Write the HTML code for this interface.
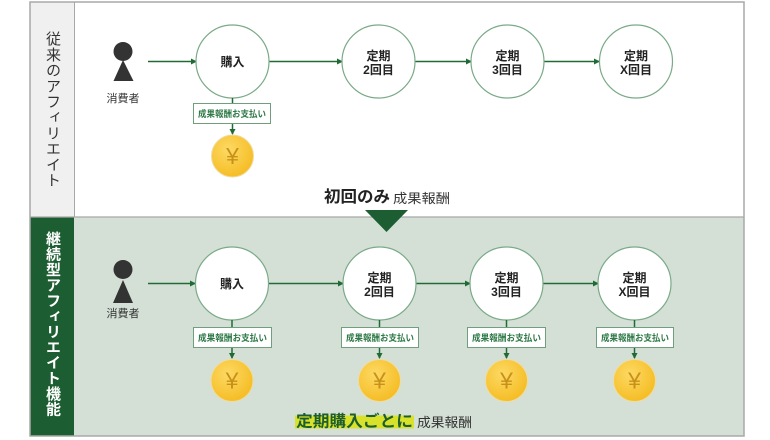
<!DOCTYPE html>
<html><head><meta charset="utf-8">
<style>
html,body{margin:0;padding:0;background:#fff;}
body{width:770px;height:440px;position:relative;overflow:hidden;font-family:"Liberation Sans","Noto Sans CJK JP",sans-serif;}
svg{position:absolute;left:0;top:0;}
.vt{position:absolute;writing-mode:vertical-rl;text-orientation:upright;font-family:"Liberation Sans","Noto Sans CJK JP",sans-serif;width:44px;line-height:44px;text-align:left;white-space:nowrap;}
</style></head><body>
<svg width="770" height="440" viewBox="0 0 770 440" xmlns="http://www.w3.org/2000/svg" font-family="Liberation Sans, Noto Sans CJK JP, sans-serif">
<defs>
<radialGradient id="coin" cx="0.4" cy="0.35" r="0.75">
<stop offset="0" stop-color="#fdd964"/>
<stop offset="1" stop-color="#f4b91c"/>
</radialGradient>
<marker id="ah" markerWidth="6" markerHeight="6" refX="5" refY="3" orient="auto" markerUnits="userSpaceOnUse">
<path d="M0,0 L6,3 L0,6 z" fill="#216a35"/>
</marker>
</defs>
<!-- sections -->
<rect x="30" y="2" width="714" height="215" fill="#ffffff"/>
<rect x="30" y="217" width="714" height="219" fill="#d4e0d6"/>
<rect x="30" y="2" width="44" height="215" fill="#f0f0f0"/>
<rect x="30" y="217" width="44" height="219" fill="#1c5e31"/>
<line x1="74.5" y1="2" x2="74.5" y2="217" stroke="#a8a8a8" stroke-width="1"/>
<line x1="30" y1="217" x2="744" y2="217" stroke="#a8a8a8" stroke-width="1.2"/>
<rect x="30" y="2" width="714" height="434" fill="none" stroke="#a8a8a8" stroke-width="1.5"/>

<!-- TOP ROW -->
<circle cx="123" cy="51.5" r="9.5" fill="#333"/>
<polygon points="123,60 113.5,81 133.5,81" fill="#333"/>
<text x="123" y="102" font-size="11" fill="#333" text-anchor="middle">消費者</text>

<g stroke="#216a35" stroke-width="1.5" marker-end="url(#ah)">
<line x1="148" y1="61.5" x2="196" y2="61.5"/>
<line x1="269" y1="61.5" x2="342" y2="61.5"/>
<line x1="415" y1="61.5" x2="471" y2="61.5"/>
<line x1="544" y1="61.5" x2="599" y2="61.5"/>
</g>
<g fill="#fff" stroke="#7aaa88" stroke-width="1.2">
<circle cx="232.5" cy="61.5" r="36.5"/>
<circle cx="378.5" cy="61.5" r="36.5"/>
<circle cx="507.5" cy="61.5" r="36.5"/>
<circle cx="636" cy="61.5" r="36.5"/>
</g>
<g font-size="12" font-weight="bold" fill="#222" text-anchor="middle">
<text x="232.5" y="66">購入</text>
<text x="378.5" y="60">定期</text><text x="378.5" y="74">2回目</text>
<text x="507.5" y="60">定期</text><text x="507.5" y="74">3回目</text>
<text x="636" y="60">定期</text><text x="636" y="74">X回目</text>
</g>
<line x1="232.5" y1="98" x2="232.5" y2="103" stroke="#216a35" stroke-width="1.5"/>
<rect x="193.5" y="103.5" width="77" height="20" fill="#fff" stroke="#6f9f7c" stroke-width="1"/>
<text x="198" y="117" font-size="9" font-weight="bold" fill="#2f7a48" textLength="68" lengthAdjust="spacingAndGlyphs">成果報酬お支払い</text>
<line x1="232.5" y1="124" x2="232.5" y2="134" stroke="#216a35" stroke-width="1.5" marker-end="url(#ah)"/>
<circle cx="232.5" cy="156" r="21" fill="url(#coin)" stroke="#efdc9c" stroke-width="1"/>
<text x="232.5" y="164" font-size="23" fill="#c8921a" text-anchor="middle">¥</text>

<text x="324" y="202" font-size="16" font-weight="bold" fill="#222" textLength="66" lengthAdjust="spacingAndGlyphs">初回のみ</text>
<text x="393" y="203" font-size="13" fill="#333" textLength="57" lengthAdjust="spacingAndGlyphs">成果報酬</text>
<polygon points="365,210 408,210 386.5,232" fill="#1c5e31"/>

<!-- BOTTOM ROW -->
<circle cx="123" cy="269.5" r="9.5" fill="#333"/>
<polygon points="123,280 113,303 133,303" fill="#333"/>
<text x="123" y="317" font-size="11" fill="#333" text-anchor="middle">消費者</text>

<g stroke="#216a35" stroke-width="1.5" marker-end="url(#ah)">
<line x1="148" y1="283.5" x2="195" y2="283.5"/>
<line x1="268" y1="283.5" x2="343" y2="283.5"/>
<line x1="416" y1="283.5" x2="470" y2="283.5"/>
<line x1="543" y1="283.5" x2="598" y2="283.5"/>
</g>
<g fill="#fff" stroke="#7aaa88" stroke-width="1.2">
<circle cx="232" cy="283.5" r="36.5"/>
<circle cx="379.5" cy="283.5" r="36.5"/>
<circle cx="506.5" cy="283.5" r="36.5"/>
<circle cx="634.5" cy="283.5" r="36.5"/>
</g>
<g font-size="12" font-weight="bold" fill="#222" text-anchor="middle">
<text x="232" y="288">購入</text>
<text x="379.5" y="282">定期</text><text x="379.5" y="296">2回目</text>
<text x="506.5" y="282">定期</text><text x="506.5" y="296">3回目</text>
<text x="634.5" y="282">定期</text><text x="634.5" y="296">X回目</text>
</g>
<g stroke="#216a35" stroke-width="1.5">
<line x1="232" y1="320" x2="232" y2="327"/>
<line x1="379.5" y1="320" x2="379.5" y2="327"/>
<line x1="506.5" y1="320" x2="506.5" y2="327"/>
<line x1="634.5" y1="320" x2="634.5" y2="327"/>
</g>
<g fill="#fff" stroke="#6f9f7c" stroke-width="1">
<rect x="193.5" y="327.5" width="78" height="20"/>
<rect x="341.5" y="327.5" width="77" height="20"/>
<rect x="467.5" y="327.5" width="78" height="20"/>
<rect x="596.5" y="327.5" width="77" height="20"/>
</g>
<g font-size="9" font-weight="bold" fill="#2f7a48">
<text x="198" y="341" textLength="69" lengthAdjust="spacingAndGlyphs">成果報酬お支払い</text>
<text x="346" y="341" textLength="68" lengthAdjust="spacingAndGlyphs">成果報酬お支払い</text>
<text x="472" y="341" textLength="69" lengthAdjust="spacingAndGlyphs">成果報酬お支払い</text>
<text x="601" y="341" textLength="68" lengthAdjust="spacingAndGlyphs">成果報酬お支払い</text>
</g>
<g stroke="#216a35" stroke-width="1.5" marker-end="url(#ah)">
<line x1="232" y1="348" x2="232" y2="358"/>
<line x1="379.5" y1="348" x2="379.5" y2="358"/>
<line x1="506.5" y1="348" x2="506.5" y2="358"/>
<line x1="634.5" y1="348" x2="634.5" y2="358"/>
</g>
<g fill="url(#coin)" stroke="#efdc9c" stroke-width="1">
<circle cx="232" cy="380.5" r="21"/>
<circle cx="379.5" cy="380.5" r="21"/>
<circle cx="506.5" cy="380.5" r="21"/>
<circle cx="634.5" cy="380.5" r="21"/>
</g>
<g font-size="23" fill="#c8921a" text-anchor="middle">
<text x="232" y="388.5">¥</text>
<text x="379.5" y="388.5">¥</text>
<text x="506.5" y="388.5">¥</text>
<text x="634.5" y="388.5">¥</text>
</g>

<rect x="295" y="415.5" width="119" height="13" fill="#d9e22a"/>
<text x="296" y="426.5" font-size="16" font-weight="bold" fill="#1c5e31" textLength="117" lengthAdjust="spacingAndGlyphs">定期購入ごとに</text>
<text x="417" y="427" font-size="13" fill="#333" textLength="55" lengthAdjust="spacingAndGlyphs">成果報酬</text>
</svg>
<div class="vt" style="left:30px;top:31px;font-size:15px;letter-spacing:0.7px;color:#333;">従来のアフィリエイト</div>
<div class="vt" style="left:30px;top:231px;font-size:15px;letter-spacing:0.5px;color:#fff;font-weight:bold;">継続型アフィリエイト機能</div>
</body></html>
